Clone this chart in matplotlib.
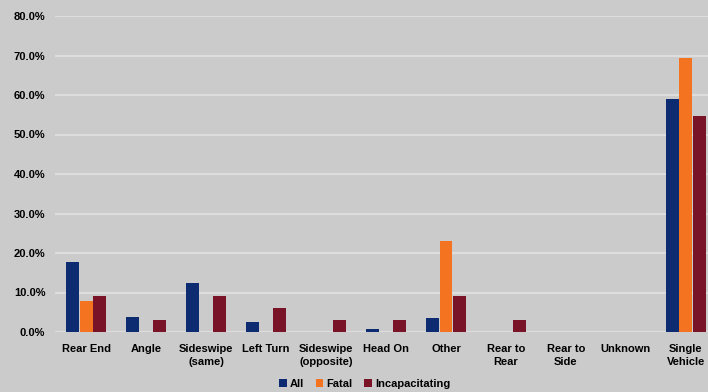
import matplotlib
matplotlib.use("Agg")
import matplotlib.pyplot as plt
import numpy as np
from matplotlib.ticker import FuncFormatter, MultipleLocator

categories = ["Rear End", "Angle", "Sideswipe\n(same)", "Left Turn", "Sideswipe\n(opposite)",
              "Head On", "Other", "Rear to\nRear", "Rear to\nSide", "Unknown", "Single\nVehicle"]
all_pct = [17.8, 3.9, 12.3, 2.5, 0.0, 0.7, 3.5, 0.0, 0.0, 0.0, 59.0]
fatal_pct = [7.8, 0.0, 0.0, 0.0, 0.0, 0.0, 23.0, 0.0, 0.0, 0.0, 69.4]
incap_pct = [9.1, 3.0, 9.1, 6.2, 3.0, 3.0, 9.0, 3.0, 0.0, 0.0, 54.8]

series = [("All", all_pct, "#0c2b70"),
          ("Fatal", fatal_pct, "#f37321"),
          ("Incapacitating", incap_pct, "#791428")]

bg = "#cbcbcb"
plt.rcParams["font.family"] = ["Liberation Sans", "DejaVu Sans"]
plt.rcParams["font.weight"] = "bold"

fig = plt.figure(figsize=(7.08, 3.92), dpi=100, facecolor=bg)
ax = fig.add_axes([55 / 708, 60 / 392, 653 / 708, 316 / 392], facecolor=bg)

x = np.arange(len(categories))
w = 0.215
for i, (name, vals, col) in enumerate(series):
    ax.bar(x + (i - 1) * 0.225, vals, width=w, color=col, label=name, zorder=3)

ax.set_ylim(0, 80)
ax.set_xlim(-0.52, 10.37)
ax.yaxis.set_major_locator(MultipleLocator(10))
ax.yaxis.set_major_formatter(FuncFormatter(lambda v, p: f"{v:.1f}%"))
ax.grid(axis="y", color="#dddddd", linewidth=1.6, zorder=0)
ax.set_axisbelow(True)
for s in ax.spines.values():
    s.set_visible(False)
ax.axhline(0, color="#dcdcdc", linewidth=1.6, zorder=1)

ax.set_xticks(x)
ax.set_xticklabels(categories, fontsize=8, fontweight="bold", linespacing=1.3)
ax.tick_params(axis="x", length=0, pad=9)
ax.tick_params(axis="y", length=0, pad=7, labelsize=8)
for t in ax.get_yticklabels():
    t.set_fontweight("bold")

fig.legend(loc="lower center", bbox_to_anchor=(0.515, -0.018), ncol=3, frameon=False,
           handlelength=0.7, handleheight=0.7, handletextpad=0.3,
           columnspacing=1.0, prop={"weight": "bold", "size": 8})

fig.savefig("out.png", dpi=100, facecolor=bg)
